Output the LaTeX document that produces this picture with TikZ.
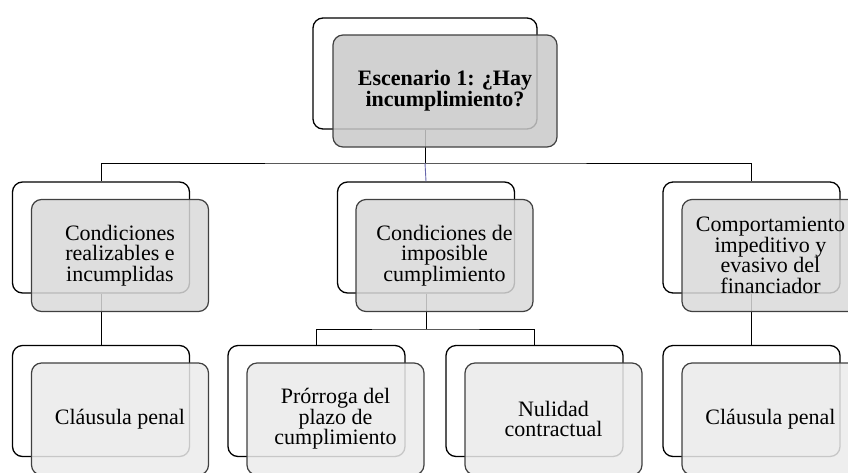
\documentclass[tikz,border=0pt]{standalone}
\usepackage{fontspec}
\setmainfont{Liberation Serif}
\begin{document}
\begin{tikzpicture}[x=1pt,y=-1pt,
 backbox/.style={draw=black, line width=1.3pt, fill=white, rounded corners=10pt, minimum width=177pt, minimum height=111pt, inner sep=0pt},
 frontbox/.style={draw=black!75, line width=1.2pt, rounded corners=10pt, minimum width=177pt, minimum height=112pt, fill opacity=0.85, text opacity=1, draw opacity=1, align=center, font=\fontsize{22}{20.5}\selectfont, inner sep=0pt},
 topfill/.style={fill=black!21},
 midfill/.style={fill=black!15},
 lowfill/.style={fill=black!8},
 conn/.style={draw=black, line width=0.9pt},
 bconn/.style={draw=blue!45!black!60, line width=0.9pt}
]
\useasboundingbox (0,0) rectangle (848,472);
% back boxes
\node[backbox, minimum width=224pt] (tb) at (425,73.5) {};
\node[backbox] (b1) at (101,237.5) {};
\node[backbox] (b2) at (426,237.5) {};
\node[backbox] (b3) at (751.5,237.5) {};
\node[backbox] (c1) at (101,401) {};
\node[backbox] (c2) at (316.5,401) {};
\node[backbox] (c3) at (534.5,401) {};
\node[backbox] (c4) at (751.5,401) {};
% connectors
\coordinate (h0) at (425,163);
\coordinate (hm) at (426,329);
\draw[conn] (tb.south) -- (h0);
\draw[conn] (b1.north) |- (h0) -| (b3.north);
\draw[bconn] (h0) -- (b2.north);
\draw[conn] (b1.south) -- (c1.north);
\draw[conn] (b3.south) -- (c4.north);
\draw[conn] (b2.south) -- (hm);
\draw[conn] (c2.north) |- (hm) -| (c3.north);
% front boxes
\node[frontbox, topfill, minimum width=224pt, font=\bfseries\fontsize{22}{21}\selectfont] (tf) at (445,91) {Escenario 1: ¿Hay\\incumplimiento?};
\node[frontbox, midfill] (f1) at (120,255.5) {Condiciones\\realizables e\\incumplidas};
\node[frontbox, midfill] (f2) at (444.5,255.5) {Condiciones de\\imposible\\cumplimiento};
\node[frontbox, midfill] (f3) at (770.5,255.5) {Comportamiento\\impeditivo y\\evasivo del\\financiador};
\node[frontbox, lowfill] (g1) at (120,419) {Cláusula penal};
\node[frontbox, lowfill] (g2) at (335.5,419) {Prórroga del\\plazo de\\cumplimiento};
\node[frontbox, lowfill] (g3) at (553.5,419) {Nulidad\\contractual};
\node[frontbox, lowfill] (g4) at (770.5,419) {Cláusula penal};
\end{tikzpicture}
\end{document}
